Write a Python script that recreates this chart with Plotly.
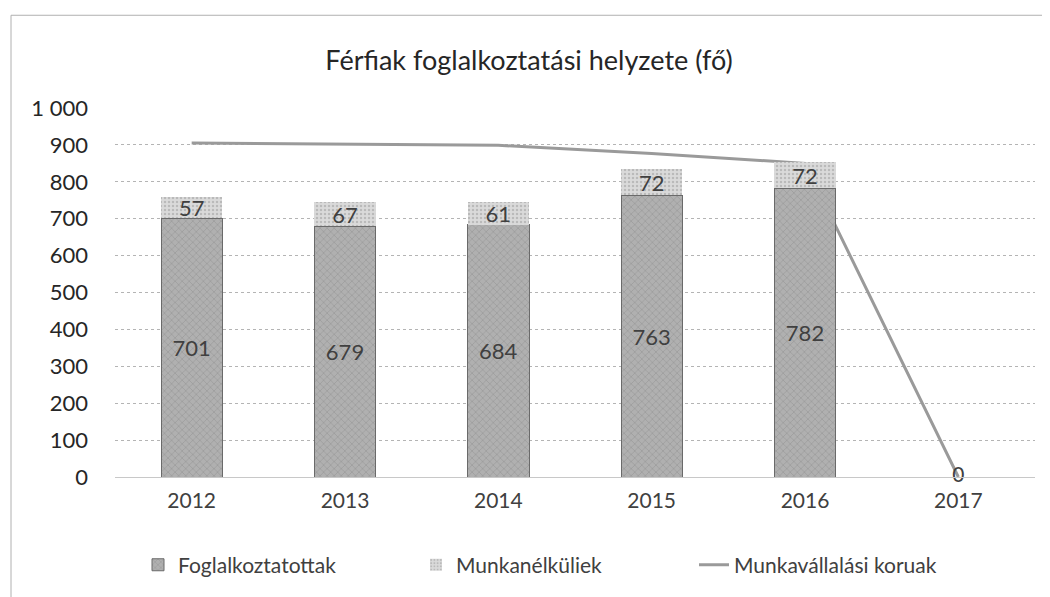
import plotly.graph_objects as go

evek = ["2012", "2013", "2014", "2015", "2016", "2017"]
foglalkoztatottak = [701, 679, 684, 763, 782, None]
munkanelkuliek = [57, 67, 61, 72, 72, None]
munkavallalasi_koruak = [905, 901, 899, 877, 850, 0]

FONT = "Lato, 'Open Sans', sans-serif"
SZURKE = "#404040"

# the page adds an 8px body margin, so the figure is a bit smaller than the window
SZELES = 1042
MAGAS = 589

fig = go.Figure()

# line on the base axes, bars on overlaying axes so they sit on top of the line
fig.add_trace(
    go.Scatter(
        x=evek,
        y=munkavallalasi_koruak,
        mode="lines+text",
        name="Munkavállalási koruak",
        line=dict(color="#9a9a9a", width=3),
        text=["", "", "", "", "", "0"],
        textposition="middle center",
        textfont=dict(size=21, color=SZURKE),
        cliponaxis=False,
        legendrank=3,
    )
)
fig.add_trace(
    go.Bar(
        x=evek,
        y=foglalkoztatottak,
        name="Foglalkoztatottak",
        xaxis="x2",
        yaxis="y2",
        marker=dict(
            color="#b0b0b0",
            line=dict(color="#6a6a6a", width=1),
            pattern=dict(shape="x", fgcolor="#8a8a8a", size=5, solidity=0.3),
        ),
        text=foglalkoztatottak,
        textposition="inside",
        insidetextanchor="middle",
        constraintext="none",
        textfont=dict(size=22, color=SZURKE),
        textangle=0,
        legendrank=1,
    )
)
fig.add_trace(
    go.Bar(
        x=evek,
        y=munkanelkuliek,
        name="Munkanélküliek",
        xaxis="x2",
        yaxis="y2",
        marker=dict(
            color="#dadada",
            line=dict(width=0),
            pattern=dict(shape=".", fgcolor="#9a9a9a", size=4, solidity=0.3),
        ),
        text=munkanelkuliek,
        textposition="inside",
        insidetextanchor="middle",
        constraintext="none",
        textfont=dict(size=22, color=SZURKE),
        textangle=0,
        legendrank=2,
    )
)

fig.update_layout(
    barmode="stack",
    bargap=0.6,
    width=SZELES,
    height=MAGAS,
    margin=dict(l=107, r=15, t=100, b=119),
    paper_bgcolor="#ffffff",
    plot_bgcolor="#ffffff",
    font=dict(family=FONT, color=SZURKE, size=18),
    separators=", ",
    title=dict(
        text="Férfiak foglalkoztatási helyzete (fő)",
        x=0.5,
        xanchor="center",
        y=1 - 53 / MAGAS,
        yanchor="middle",
        font=dict(size=27, color="#262626"),
    ),
    legend=dict(
        orientation="h",
        traceorder="normal",
        entrywidth=233,
        entrywidthmode="pixels",
        x=0.025,
        xanchor="left",
        y=-0.18,
        yanchor="top",
        font=dict(size=21, color=SZURKE),
    ),
    xaxis=dict(
        type="category",
        categoryorder="array",
        categoryarray=evek,
        showgrid=False,
        showline=True,
        linecolor="#c8c8c8",
        ticks="",
        ticklabelstandoff=5,
        tickfont=dict(size=21, color=SZURKE),
    ),
    yaxis=dict(
        range=[0, 1000],
        dtick=100,
        tickformat=",d",
        showgrid=True,
        gridcolor="#b4b4b4",
        griddash="dot",
        gridwidth=1,
        zeroline=False,
        ticks="",
        ticklabelstandoff=26,
        tickfont=dict(size=22, color="#262626"),
    ),
    xaxis2=dict(
        type="category",
        categoryorder="array",
        categoryarray=evek,
        overlaying="x",
        matches="x",
        visible=False,
    ),
    yaxis2=dict(
        range=[0, 1000],
        overlaying="y",
        visible=False,
        showgrid=False,
    ),
    shapes=[
        dict(
            type="rect",
            xref="paper",
            yref="paper",
            x0=-104 / 920,
            x1=1.1,
            y0=-0.5,
            y1=1 + 93 / 370,
            line=dict(color="#b0b0b0", width=1),
            layer="below",
        )
    ],
)

fig.write_html("out.html")
